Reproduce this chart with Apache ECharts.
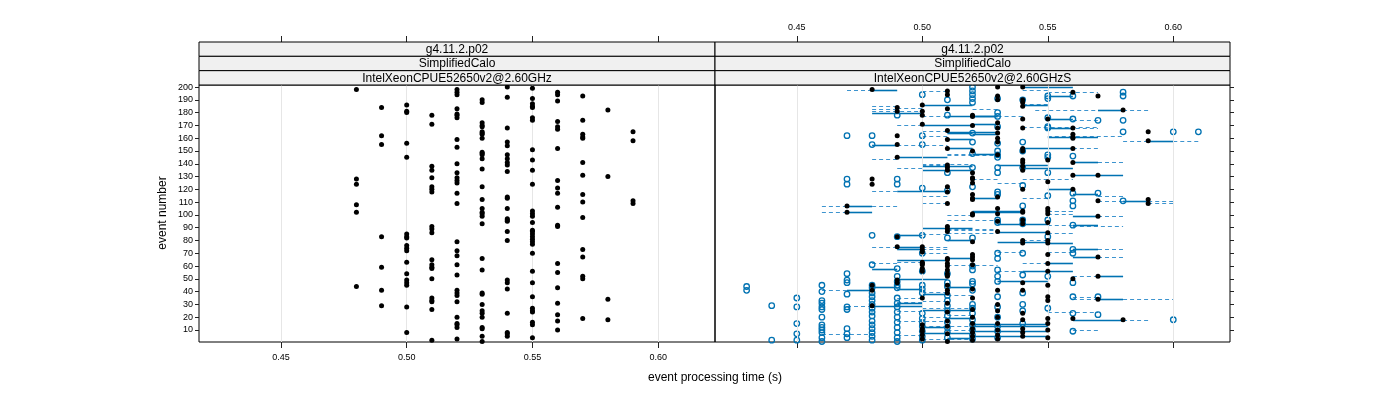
<!DOCTYPE html>
<html><head><meta charset="utf-8">
<script src="https://cdn.jsdelivr.net/npm/echarts@6/dist/echarts.min.js"></script>
<style>html,body{margin:0;padding:0;background:#fff}#c{width:1400px;height:400px}</style>
</head><body><div id="c"></div>
<script>
// ---------- data ----------
const xTicks = [0.45, 0.50, 0.55, 0.60];
const yTicks = [10,20,30,40,50,60,70,80,90,100,110,120,130,140,150,160,170,180,190,200];
const stripTexts = [
  ['g4.11.2.p02', 'SimplifiedCalo', 'IntelXeonCPUE52650v2@2.60GHz'],
  ['g4.11.2.p02', 'SimplifiedCalo', 'IntelXeonCPUE52650v2@2.60GHzS']
];
// left panel: event numbers observed at each processing time
const leftLevels = [0.48,0.49,0.50,0.51,0.52,0.53,0.54,0.55,0.56,0.57,0.58,0.59];
const leftEvents = [
  [198,128,124,108,102,44],
  [184,162,155,83,59,41,29],
  [186,181,180,156,145,85,83,82,76,74,72,63,54,49,47,45,28,8],
  [178,171,138,135,129,122,120,118,91,89,86,65,61,59,58,50,35,33,32,26,2],
  [198,196,194,183,179,178,176,159,153,140,133,129,127,125,117,109,79,72,68,61,53,41,39,37,32,20,15,14,12,3],
  [190,188,172,170,169,165,164,163,160,149,148,147,144,136,122,112,105,102,101,99,93,66,57,39,38,30,25,23,20,12,11,5,1],
  [200,192,168,157,154,147,144,141,139,134,114,113,105,97,96,95,87,80,49,47,42,23,8,7,5],
  [199,191,187,185,184,176,174,151,143,135,124,103,101,99,94,88,87,85,83,81,79,77,70,56,47,36,27,25,24,16,14,4],
  [196,194,189,173,169,167,152,127,121,117,106,92,91,62,55,43,31,22,17,10],
  [193,174,163,161,160,141,131,116,110,98,73,67,52,50,19],
  [182,130,34,18],
  [165,158,111,109]
];
// right panel: black points (this run)
const rightBlackLevels = [0.47,0.48,0.49,0.50,0.51,0.52,0.53,0.54,0.55,0.56,0.57,0.58,0.59];
const rightBlackEvents = [
  [107,102],
  [198,128,124,45,41,29],
  [184,181,162,155,145,83,75,49,47],
  [186,181,178,171,75,73,71,63,62,61,58,56,35,14,11,9,6,3],
  [197,194,183,166,159,152,139,137,135,122,118,109,91,89,87,66,65,62,60,57,54,52,45,41,39,31,24,17,13,7,1],
  [178,177,170,150,133,129,128,125,116,113,112,101,100,79,69,67,65,61,42,35,26,20,15,11,8,5,2],
  [200,193,190,172,168,164,160,157,147,114,105,101,95,87,41,30,25,20,15,10,6,3],
  [200,190,188,185,175,168,152,150,143,141,138,135,120,103,102,96,93,80,78,47,41,23,18,11,8,5],
  [175,143,126,105,103,101,94,86,80,78,69,62,56,45,36,33,19,15,10,4],
  [196,168,163,161,160,152,141,131,120,50,19],
  [193,131,111,99,67,52,34],
  [182,18],
  [165,158,112,109]
];
// right panel: open blue circles (other runs)
const rightBlueLevels = [0.43,0.44,0.45,0.46,0.47,0.48,0.49,0.50,0.51,0.52,0.53,0.54,0.55,0.56,0.57,0.58,0.60,0.61];
const rightBlueEvents = [
  [44,41],
  [29,2],
  [35,28,15,7,2],
  [45,40,33,31,28,26,20,14,12,10,8,4,1],
  [162,128,124,54,49,47,38,28,26,11,7,4],
  [162,155,84,61,45,43,39,36,33,30,27,24,21,17,14,11,8,5,2],
  [178,128,124,83,58,52,48,45,43,35,31,28,24,20,16,12,8,4,1],
  [194,162,155,121,84,70,56,45,42,39,23,19,16,13,9,5,2],
  [190,178,133,119,82,54,47,44,37,33,29,25,21,16,12,8,4],
  [200,197,194,191,188,164,157,148,137,122,82,60,57,48,46,41,30,27,23,18,14,10,6,3],
  [191,180,177,169,156,150,147,145,137,133,118,116,96,94,70,66,57,52,48,36,28,20,13,9,4],
  [190,157,150,137,123,107,96,93,70,53,39,30,25,15],
  [193,191,176,169,168,147,145,133,115,96,83,52,27],
  [193,175,146,117,111,107,92,73,70,47,36,23,9],
  [174,117,36,22],
  [196,193,174,165,111],
  [165,18],
  [165]
];
// right panel segments: [event, from, to]
const solidSegs = [
  [198,0.48,0.49],[186,0.50,0.52],[180,0.48,0.50],[177,0.51,0.53],[170,0.50,0.52],[165,0.51,0.53],[164,0.51,0.52],[159,0.51,0.52],[155,0.48,0.49],[152,0.51,0.52],[145,0.49,0.51],[138,0.50,0.52],[135,0.50,0.52],[119,0.49,0.51],[107,0.47,0.48],[102,0.47,0.48],
  [200,0.54,0.56],[193,0.55,0.56],[186,0.54,0.55],[182,0.57,0.58],[177,0.52,0.53],[175,0.55,0.56],[171,0.52,0.53],[168,0.55,0.56],[163,0.52,0.53],[161,0.55,0.57],[158,0.59,0.60],[152,0.54,0.56],[148,0.52,0.53],[141,0.56,0.57],[139,0.53,0.55],[137,0.54,0.56],[131,0.56,0.58],[120,0.55,0.56],[116,0.56,0.57],[113,0.52,0.53],[111,0.58,0.59],[103,0.52,0.54],
  [90,0.50,0.52],[84,0.49,0.50],[80,0.51,0.52],[75,0.49,0.50],[73,0.49,0.50],[66,0.51,0.52],[65,0.49,0.51],[58,0.48,0.49],[50,0.49,0.51],[44,0.48,0.49],[44,0.51,0.52],[42,0.49,0.50],[41,0.47,0.48],[38,0.50,0.51],[31,0.49,0.50],[29,0.48,0.50],[26,0.50,0.52],[19,0.51,0.52],[12,0.50,0.51],[8,0.50,0.52],[4,0.51,0.52],
  [102,0.52,0.54],[99,0.56,0.57],[93,0.53,0.55],[92,0.56,0.57],[87,0.53,0.55],[79,0.53,0.55],[78,0.55,0.56],[73,0.56,0.57],[67,0.56,0.57],[62,0.55,0.56],[56,0.54,0.56],[52,0.57,0.58],[48,0.53,0.55],[34,0.57,0.58],[18,0.56,0.58],[15,0.52,0.55],[13,0.52,0.55],[9,0.52,0.55],[5,0.52,0.55]
];
const dashedSegs = [
  [198,0.47,0.48],[197,0.50,0.51],[185,0.48,0.49],[184,0.49,0.50],[183,0.48,0.49],[181,0.48,0.50],[177,0.50,0.51],[170,0.49,0.50],[166,0.50,0.51],[162,0.50,0.51],[155,0.49,0.51],[148,0.51,0.53],[147,0.51,0.53],[144,0.48,0.49],[140,0.50,0.52],[139,0.50,0.51],[137,0.49,0.50],[119,0.48,0.49],[115,0.50,0.51],[109,0.50,0.51],[107,0.46,0.47],[107,0.48,0.49],[102,0.46,0.47],
  [198,0.54,0.55],[196,0.55,0.57],[187,0.54,0.55],[183,0.52,0.53],[182,0.545,0.57],[182,0.58,0.59],[177,0.53,0.54],[174,0.56,0.57],[169,0.54,0.57],[168,0.55,0.57],[162,0.55,0.58],[158,0.58,0.59],[158,0.60,0.61],[152,0.56,0.57],[141,0.57,0.58],[128,0.52,0.53],[128,0.54,0.56],[125,0.53,0.54],[115,0.57,0.58],[113,0.54,0.55],[111,0.57,0.58],[111,0.59,0.60],[109,0.59,0.60],[103,0.55,0.56],
  [100,0.51,0.52],[96,0.51,0.53],[89,0.51,0.53],[88,0.51,0.53],[86,0.51,0.53],[85,0.50,0.51],[75,0.48,0.49],[75,0.50,0.51],[73,0.50,0.51],[70,0.50,0.51],[63,0.49,0.50],[62,0.48,0.49],[61,0.51,0.53],[41,0.46,0.48],[40,0.50,0.51],[37,0.51,0.52],[35,0.49,0.50],[33,0.50,0.51],[32,0.49,0.50],[29,0.47,0.48],[27,0.50,0.52],[25,0.49,0.50],[22,0.51,0.52],[20,0.50,0.51],[17,0.49,0.51],[13,0.50,0.52],[10,0.51,0.52],[7,0.46,0.48],[6,0.49,0.50],[3,0.50,0.52],
  [103,0.55,0.56],[101,0.55,0.56],[99,0.57,0.58],[92,0.55,0.56],[91,0.56,0.58],[86,0.55,0.56],[80,0.54,0.55],[73,0.57,0.58],[71,0.53,0.54],[71,0.55,0.56],[67,0.57,0.58],[62,0.54,0.55],[56,0.53,0.54],[52,0.56,0.57],[36,0.56,0.57],[34,0.56,0.57],[34,0.58,0.60],[24,0.55,0.57],[18,0.58,0.59],[10,0.56,0.57]
];

// ---------- layout / style ----------
const FONT = 'Liberation Sans, Arial, Helvetica, sans-serif';
const XMIN = 0.4174, XMAX = 0.6226, YMIN = 0.6, YMAX = 201.6;
const P = [{left:199, top:85, width:516, height:257}, {left:715, top:85, width:515, height:257}];
const STRIP_TOP = 42, STRIP_H = 43/3;
const BLUE = '#0072B2';
const BLUE_DASH = '#3d94cf';

function pts(levels, events){ const o=[]; levels.forEach((v,i)=>events[i].forEach(e=>o.push([v,e]))); return o; }

function segSeries(list, style, z){
  return {
    type:'custom', xAxisIndex:1, yAxisIndex:1, z:z, silent:true,
    data:list.map(s=>[s[1], s[2], s[0]]),
    encode:{x:[0,1], y:2},
    renderItem:function(params, api){
      const a = api.coord([api.value(0), api.value(2)]);
      const b = api.coord([api.value(1), api.value(2)]);
      const y = Math.round(a[1]) + 0.5;
      return {type:'line', shape:{x1:a[0], y1:y, x2:b[0], y2:y}, style:style};
    }
  };
}

const chart = echarts.init(document.getElementById('c'), null, {renderer:'canvas'});

function xAx(grid, pos, opts){
  return Object.assign({
    type:'value', gridIndex:grid, position:pos, min:XMIN, max:XMAX,
    axisLine:{show:false}, splitLine:{show:false},
    axisTick:{show:true, customValues:xTicks, length:6, inside:false, lineStyle:{color:'#222', width:1}},
    axisLabel:{show:false, customValues:xTicks, formatter:v=>v.toFixed(2), fontSize:9, color:'#000', fontFamily:FONT}
  }, opts);
}

const graphic = [];
P.forEach((p,pi)=>{
  for(let r=0;r<3;r++){
    graphic.push({type:'rect', shape:{x:p.left, y:STRIP_TOP + r*STRIP_H, width:p.width, height:STRIP_H},
      style:{fill:'#f0f0f0', stroke:'#000', lineWidth:1}, z:10});
    graphic.push({type:'text', x:p.left + p.width/2, y:STRIP_TOP + r*STRIP_H + STRIP_H/2 + 0.5,
      style:{text:stripTexts[pi][r], font:'12px '+FONT, fill:'#000', textAlign:'center', textVerticalAlign:'middle'}, z:11});
  }
});
graphic.push({type:'text', x:715, y:378, style:{text:'event processing time (s)', font:'12px '+FONT, fill:'#000', textAlign:'center', textVerticalAlign:'middle'}});
graphic.push({type:'text', x:163, y:213, rotation:Math.PI/2, style:{text:'event number', font:'12px '+FONT, fill:'#000', textAlign:'center', textVerticalAlign:'middle'}});

const gridLineMark = {silent:true, symbol:'none', label:{show:false},
  lineStyle:{color:'#e6e6e6', width:1, type:'solid'}, data:xTicks.map(v=>({xAxis:v}))};

chart.setOption({
  animation:false,
  backgroundColor:'#fff',
  grid: P.map(p=>Object.assign({show:true, borderColor:'#000', borderWidth:1, backgroundColor:'transparent', containLabel:false}, p)),
  xAxis: [
    xAx(0,'bottom',{axisLabel:{show:true, customValues:xTicks, formatter:v=>v.toFixed(2), fontSize:9, color:'#000', fontFamily:FONT, margin:11}}),
    xAx(1,'bottom',{}),
    xAx(0,'top',{offset:43}),
    xAx(1,'top',{offset:43, axisLabel:{show:true, customValues:xTicks, formatter:v=>v.toFixed(2), fontSize:9, color:'#000', fontFamily:FONT, margin:10}})
  ],
  yAxis: [
    {type:'value', gridIndex:0, position:'left', min:YMIN, max:YMAX, axisLine:{show:false}, splitLine:{show:false},
      axisTick:{show:true, customValues:yTicks, length:4, lineStyle:{color:'#222'}},
      axisLabel:{show:true, customValues:yTicks, fontSize:9, color:'#000', fontFamily:FONT, margin:6}},
    {type:'value', gridIndex:1, position:'right', min:YMIN, max:YMAX, axisLine:{show:false}, splitLine:{show:false},
      axisTick:{show:true, customValues:yTicks, length:4, lineStyle:{color:'#222'}},
      axisLabel:{show:false}}
  ],
  graphic: graphic,
  series: [
    {type:'scatter', xAxisIndex:0, yAxisIndex:0, data:[], z:1, markLine:gridLineMark},
    {type:'scatter', xAxisIndex:1, yAxisIndex:1, data:[], z:1, markLine:gridLineMark},
    {type:'scatter', name:'left', xAxisIndex:0, yAxisIndex:0, z:5, symbol:'circle', symbolSize:5,
      itemStyle:{color:'#000', opacity:1}, data:pts(leftLevels,leftEvents)},
    segSeries(dashedSegs, {stroke:BLUE_DASH, lineWidth:1, lineDash:[4,3], fill:null}, 2),
    segSeries(solidSegs, {stroke:BLUE, lineWidth:1.6, fill:null}, 3),
    {type:'scatter', name:'blue', xAxisIndex:1, yAxisIndex:1, z:4, symbol:'circle', symbolSize:5.5,
      itemStyle:{color:'rgba(255,255,255,0)', borderColor:BLUE, borderWidth:1.3, opacity:1}, data:pts(rightBlueLevels,rightBlueEvents)},
    {type:'scatter', name:'right', xAxisIndex:1, yAxisIndex:1, z:5, symbol:'circle', symbolSize:5,
      itemStyle:{color:'#000', opacity:1}, data:pts(rightBlackLevels,rightBlackEvents)}
  ]
});
</script>
</body></html>
